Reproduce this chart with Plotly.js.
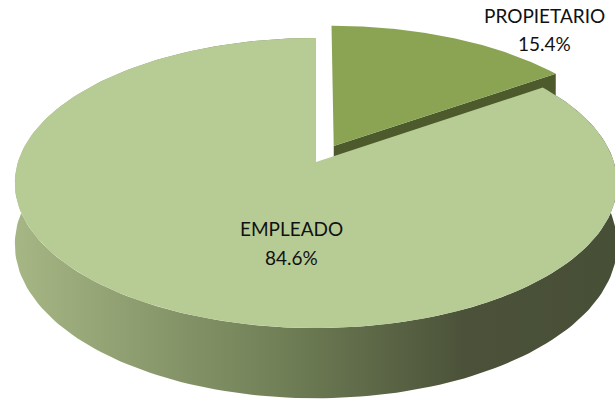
<!DOCTYPE html>
<html>
<head>
<meta charset="utf-8">
<script src="https://cdn.plot.ly/plotly-3.0.1.min.js"></script>
<style>html,body{margin:0;padding:0;background:#fff;}#chart{width:615px;height:404px;}</style>
</head>
<body>
<div id="chart"></div>
<script>
// ---- data ----
const labels = ['PROPIETARIO', 'EMPLEADO'];
const values = [15.4, 84.6];

// ---- style / geometry (not data) ----
const pull = [0.13, 0];
const topColors = ['rgb(138,164,84)', 'rgb(183,204,149)'];
const faceColors = ['rgb(77,90,43)', 'rgb(77,90,43)'];
const wallScale = [[0, 'rgb(167,183,133)'], [0.45, 'rgb(112,127,86)'], [0.75, 'rgb(75,82,57)'], [1, 'rgb(72,79,55)']];
const G = {cx: 316, cy: 162, rx: 298, ry: 142, k: 0.145, depth: 60};
const labelStyle = [
  {x: 544, y1: 15, y2: 43},
  {x: 291, y1: 228, y2: 257}
];

function proj(u, v, dz) {
  const s = 1 / (1 + G.k * v);
  return [G.cx + G.rx * u * s, G.cy - G.ry * v * s + dz * s];
}
const total = values.reduce((a, b) => a + b, 0);
const slices = [];
let acc = 0;
values.forEach((val, i) => {
  const a0 = acc / total * 2 * Math.PI;
  acc += val;
  const a1 = acc / total * 2 * Math.PI;
  const mid = (a0 + a1) / 2;
  slices.push({a0, a1, ou: pull[i] * Math.sin(mid), ov: pull[i] * Math.cos(mid)});
});

function arc(sl, dz, n) {
  const pts = [];
  for (let j = 0; j <= n; j++) {
    const a = sl.a0 + (sl.a1 - sl.a0) * j / n;
    pts.push(proj(sl.ou + Math.sin(a), sl.ov + Math.cos(a), dz));
  }
  return pts;
}
function poly(pts, extra) {
  return Object.assign({
    type: 'scatter', mode: 'lines', fill: 'toself',
    x: pts.map(p => p[0]), y: pts.map(p => p[1]),
    line: {width: 0}, hoverinfo: 'skip', showlegend: false
  }, extra);
}

const traces = [];
// outer wall of large slice (index 1)
{
  const sl = slices[1];
  const top = arc(sl, 0, 200);
  const bot = arc(sl, G.depth, 200).reverse();
  traces.push(poly(top.concat(bot), {
    fillcolor: 'rgb(112,127,86)',
    fillgradient: {type: 'horizontal', start: 10, stop: 615, colorscale: wallScale}
  }));
}
// radial side face at end edge of small slice (index 0)
{
  const sl = slices[0];
  const apexT = proj(sl.ou, sl.ov, 0), apexB = proj(sl.ou, sl.ov, G.depth);
  const oT = proj(sl.ou + Math.sin(sl.a1), sl.ov + Math.cos(sl.a1), 0);
  const oB = proj(sl.ou + Math.sin(sl.a1), sl.ov + Math.cos(sl.a1), G.depth);
  traces.push(poly([apexT, oT, oB, apexB, apexT], {fillcolor: faceColors[0]}));
}
// top faces: large slice first, then small
[1, 0].forEach(i => {
  const sl = slices[i];
  const apex = proj(sl.ou, sl.ov, 0);
  const pts = [apex].concat(arc(sl, 0, 200)).concat([apex]);
  traces.push(poly(pts, {fillcolor: topColors[i]}));
});

const font = {family: 'Lato, "Open Sans", sans-serif', size: 19, color: '#111111'};
const annotations = [];
labels.forEach((lab, i) => {
  const pct = (values[i] / total * 100).toFixed(1) + '%';
  annotations.push({x: labelStyle[i].x, y: labelStyle[i].y1, xref: 'x', yref: 'y', text: lab, showarrow: false, font: font, xanchor: 'center', yanchor: 'middle'});
  annotations.push({x: labelStyle[i].x, y: labelStyle[i].y2, xref: 'x', yref: 'y', text: pct, showarrow: false, font: font, xanchor: 'center', yanchor: 'middle'});
});

const layout = {
  width: 615, height: 404,
  margin: {l: 0, r: 0, t: 0, b: 0},
  paper_bgcolor: '#ffffff', plot_bgcolor: '#ffffff',
  xaxis: {range: [0, 615], visible: false, fixedrange: true},
  yaxis: {range: [404, 0], visible: false, fixedrange: true},
  showlegend: false,
  annotations: annotations
};
Plotly.newPlot('chart', traces, layout, {displayModeBar: false, staticPlot: true});
</script>
</body>
</html>
